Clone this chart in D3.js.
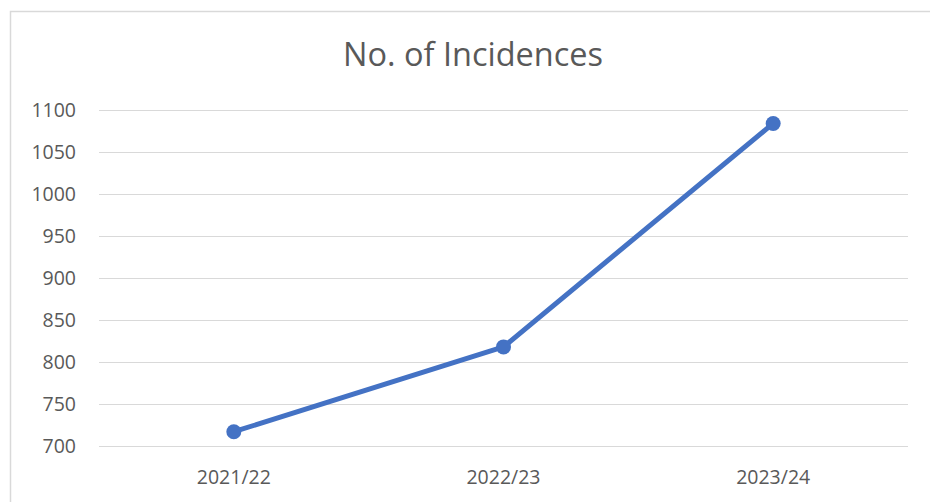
<!DOCTYPE html>
<html>
<head>
<meta charset="utf-8">
<script src="https://cdn.jsdelivr.net/npm/d3@7"></script>
<style>
  body { margin: 0; background: #fff; }
  svg { display: block; }
  text { font-family: "Open Sans", sans-serif; fill: #595959; }
</style>
</head>
<body>
<svg id="chart"></svg>
<script>
// datos del grafico
const titulo = "No. of Incidences";
const anyos = ["2021/22", "2022/23", "2023/24"];
const incidencias = [717, 818, 1084];
const ticksY = [700, 750, 800, 850, 900, 950, 1000, 1050, 1100];

const width = 930;
const height = 502;
const margin = { top: 110, right: 22, bottom: 56, left: 99 };

const svg = d3.select("#chart")
  .attr("width", width)
  .attr("height", height);

// borde del area del grafico
svg.append("rect")
  .attr("x", 10.5)
  .attr("y", 11.5)
  .attr("width", width)
  .attr("height", height)
  .attr("fill", "none")
  .attr("stroke", "#d9d9d9")
  .attr("stroke-width", 1.5);

const x = d3.scaleBand()
  .domain(anyos)
  .range([margin.left, width - margin.right]);

const y = d3.scaleLinear()
  .domain([700, 1100])
  .range([height - margin.bottom, margin.top]);

// lineas de la cuadricula
svg.append("g")
  .selectAll("line")
  .data(ticksY)
  .join("line")
  .attr("x1", margin.left)
  .attr("x2", width - margin.right)
  .attr("y1", d => Math.round(y(d)) + 0.5)
  .attr("y2", d => Math.round(y(d)) + 0.5)
  .attr("stroke", "#d9d9d9")
  .attr("stroke-width", 1.2);

// etiquetas eje Y
const ejeY = svg.append("g")
  .attr("transform", `translate(${margin.left - 23},0)`)
  .call(d3.axisLeft(y).tickValues(ticksY).tickFormat(d3.format("d")).tickSize(0).tickPadding(0));
ejeY.select(".domain").remove();
ejeY.selectAll("text")
  .attr("font-family", "Open Sans, sans-serif")
  .attr("font-size", 19.5)
  .attr("fill", "#595959");

// etiquetas eje X
const ejeX = svg.append("g")
  .attr("transform", `translate(0,${height - margin.bottom + 38})`)
  .call(d3.axisBottom(x).tickSize(0).tickPadding(0));
ejeX.select(".domain").remove();
ejeX.selectAll("text")
  .attr("font-family", "Open Sans, sans-serif")
  .attr("font-size", 19.5)
  .attr("fill", "#595959")
  .attr("dy", "0");

// titulo
svg.append("text")
  .attr("x", 473)
  .attr("y", 66)
  .attr("text-anchor", "middle")
  .attr("font-size", 32.5)
  .text(titulo);

const linea = d3.line()
  .x((d, i) => x(anyos[i]) + x.bandwidth() / 2)
  .y(d => y(d));

svg.append("path")
  .datum(incidencias)
  .attr("d", linea)
  .attr("fill", "none")
  .attr("stroke", "#4472c4")
  .attr("stroke-width", 5)
  .attr("stroke-linejoin", "round")
  .attr("stroke-linecap", "round");

svg.append("g")
  .selectAll("circle")
  .data(incidencias)
  .join("circle")
  .attr("cx", (d, i) => x(anyos[i]) + x.bandwidth() / 2)
  .attr("cy", d => y(d))
  .attr("r", 7.5)
  .attr("fill", "#4472c4");
</script>
</body>
</html>
